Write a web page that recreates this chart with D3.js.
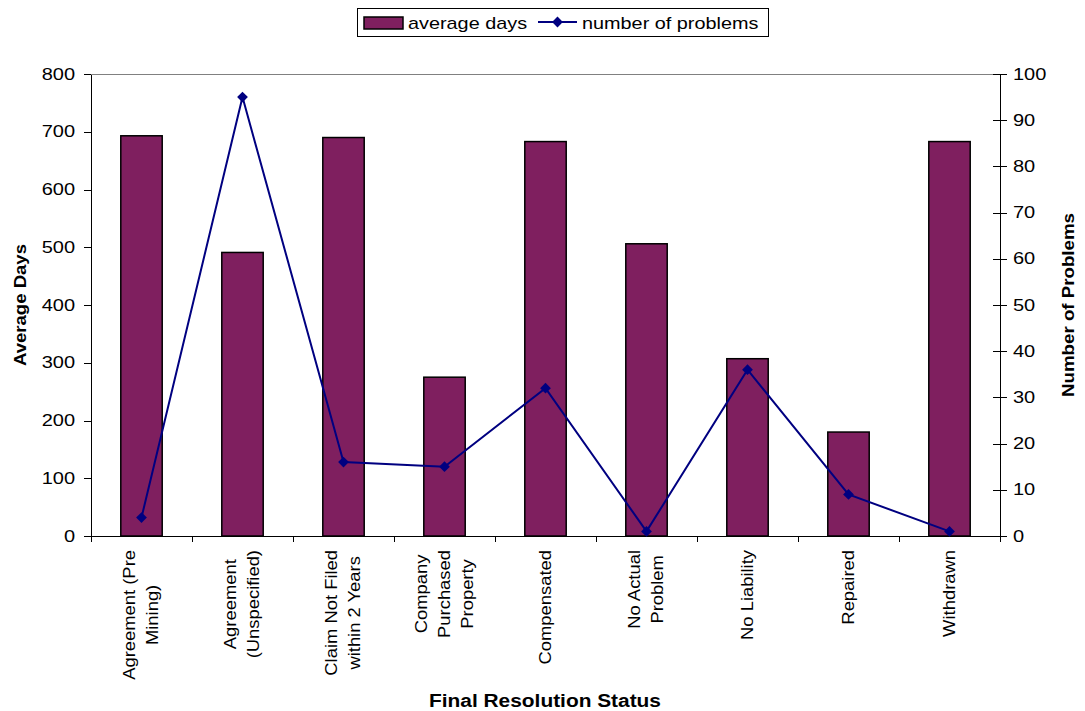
<!DOCTYPE html>
<html>
<head>
  <meta charset="UTF-8">
  <title>Average days and number of problems by final resolution status</title>
  <script src="https://d3js.org/d3.v7.min.js"></script>
  <style>
    body { margin: 0; background: #fff; }
    svg { display: block; }
    text { font-family: Arial, "Liberation Sans", sans-serif; fill: #000; }
    .axis path, .axis line { stroke: #000; stroke-width: 1; shape-rendering: crispEdges; }
    .bar { fill: #7f1f5f; stroke: #000; stroke-width: 1.5; }
    .problems-line { fill: none; stroke: #000080; stroke-width: 2; }
    .marker { fill: #000080; }
  </style>
</head>
<body>
  <svg width="1085" height="711"></svg>
  <script>
    // category labels, already split the way they wrap under the axis
    const categories = [
      ["Agreement (Pre", "Mining)"],
      ["Agreement", "(Unspecified)"],
      ["Claim Not Filed", "within 2 Years"],
      ["Company", "Purchased", "Property"],
      ["Compensated"],
      ["No Actual", "Problem"],
      ["No Liability"],
      ["Repaired"],
      ["Withdrawn"]
    ];
    const averageDays = [693, 491, 690, 275, 683, 506, 307, 180, 683];
    const numberOfProblems = [4, 95, 16, 15, 32, 1, 36, 9, 1];
    const leftTicks = [0, 100, 200, 300, 400, 500, 600, 700, 800];
    const rightTicks = [0, 10, 20, 30, 40, 50, 60, 70, 80, 90, 100];

    const svg = d3.select("svg");
    const plot = { left: 91, right: 1000, top: 74, bottom: 536 };

    const idx = categories.map((c, i) => i);
    const x = d3.scaleBand().domain(idx).range([plot.left, plot.right]).padding(0);
    const xEdge = d3.scaleLinear().domain([0, categories.length]).range([plot.left, plot.right]);
    const yLeft = d3.scaleLinear().domain([0, 800]).range([plot.bottom, plot.top]);
    const yRight = d3.scaleLinear().domain([0, 100]).range([plot.bottom, plot.top]);

    // text in the original is a bit wider than Arial, stretch along its length
    function addText(parent, px, py, rot, str, size, bold, sx, anchor) {
      return parent.append("text")
        .attr("transform", `translate(${px},${py}) rotate(${rot}) scale(${sx},1)`)
        .attr("text-anchor", anchor || "middle")
        .style("font-size", size + "px")
        .style("font-weight", bold ? "bold" : "normal")
        .text(str);
    }

    // top border of the plot area
    svg.append("line")
      .attr("x1", plot.left).attr("x2", plot.right)
      .attr("y1", plot.top).attr("y2", plot.top)
      .attr("stroke", "#808080").attr("stroke-width", 1)
      .style("shape-rendering", "crispEdges");

    // bars
    const barW = x.bandwidth() * 0.41;
    svg.append("g").selectAll("rect")
      .data(averageDays)
      .join("rect")
      .attr("class", "bar")
      .attr("x", (d, i) => x(i) + (x.bandwidth() - barW) / 2)
      .attr("y", d => yLeft(d))
      .attr("width", barW)
      .attr("height", d => yLeft(0) - yLeft(d));

    // left axis
    const gl = svg.append("g")
      .attr("class", "axis")
      .attr("transform", `translate(${plot.left},0)`)
      .call(d3.axisLeft(yLeft).tickValues(leftTicks).tickSize(7).tickSizeOuter(0));
    gl.selectAll("text")
      .attr("x", -16 / 1.25)
      .attr("transform", "scale(1.25,1)")
      .style("font-size", "16px");

    // right axis, ticks cross the line
    const gr = svg.append("g")
      .attr("class", "axis")
      .attr("transform", `translate(${plot.right},0)`)
      .call(d3.axisRight(yRight).tickValues(rightTicks).tickSize(7).tickSizeOuter(0));
    gr.selectAll(".tick line").attr("x1", -7);
    gr.selectAll("text")
      .attr("x", 13 / 1.25)
      .attr("transform", "scale(1.25,1)")
      .style("font-size", "16px");

    // bottom axis with ticks between categories
    svg.append("g")
      .attr("class", "axis")
      .attr("transform", `translate(0,${plot.bottom})`)
      .call(d3.axisBottom(xEdge).ticks(categories.length).tickSize(6).tickSizeOuter(0).tickFormat(""));

    // category labels, rotated, lines centred on each other
    const lineGap = 23, catSx = 1.15;
    categories.forEach((lines, i) => {
      const cx = x(i) + x.bandwidth() / 2;
      const b0 = cx + 5 - (lines.length - 1) * lineGap / 2;
      const g = svg.append("g");
      const texts = lines.map((ln, j) => addText(g, b0 + j * lineGap, 0, -90, ln, 16, false, catSx));
      const maxLen = d3.max(texts, t => t.node().getComputedTextLength() * catSx);
      texts.forEach((t, j) => {
        t.attr("transform", `translate(${b0 + j * lineGap},${550 + maxLen / 2}) rotate(-90) scale(${catSx},1)`);
      });
    });

    // problems line with diamond markers
    const line = d3.line()
      .x((d, i) => x(i) + x.bandwidth() / 2)
      .y(d => yRight(d));
    svg.append("path")
      .datum(numberOfProblems)
      .attr("class", "problems-line")
      .attr("d", line);
    svg.append("g").selectAll("path")
      .data(numberOfProblems)
      .join("path")
      .attr("class", "marker")
      .attr("d", d3.symbol().type(d3.symbolSquare).size(58))
      .attr("transform", (d, i) => `translate(${x(i) + x.bandwidth() / 2},${yRight(d)}) rotate(45)`);

    // axis titles
    addText(svg, 26, 305, -90, "Average Days", 16, true, 1.16);
    addText(svg, 1074, 305, -90, "Number of Problems", 16, true, 1.17);
    addText(svg, 545, 707, 0, "Final Resolution Status", 18, true, 1.16);

    // legend
    const legend = svg.append("g");
    legend.append("rect")
      .attr("x", 357.5).attr("y", 8.5)
      .attr("width", 411).attr("height", 28)
      .attr("fill", "#fff").attr("stroke", "#000").attr("stroke-width", 1);
    legend.append("rect")
      .attr("class", "bar")
      .attr("x", 364).attr("y", 17)
      .attr("width", 39).attr("height", 12);
    addText(legend, 408, 28.5, 0, "average days", 16, false, 1.24, "start");
    legend.append("line")
      .attr("x1", 538).attr("x2", 577)
      .attr("y1", 22).attr("y2", 22)
      .attr("stroke", "#000080").attr("stroke-width", 2);
    legend.append("path")
      .attr("class", "marker")
      .attr("d", d3.symbol().type(d3.symbolSquare).size(58))
      .attr("transform", "translate(557.5,22) rotate(45)");
    addText(legend, 582, 28.5, 0, "number of problems", 16, false, 1.24, "start");
  </script>
</body>
</html>
